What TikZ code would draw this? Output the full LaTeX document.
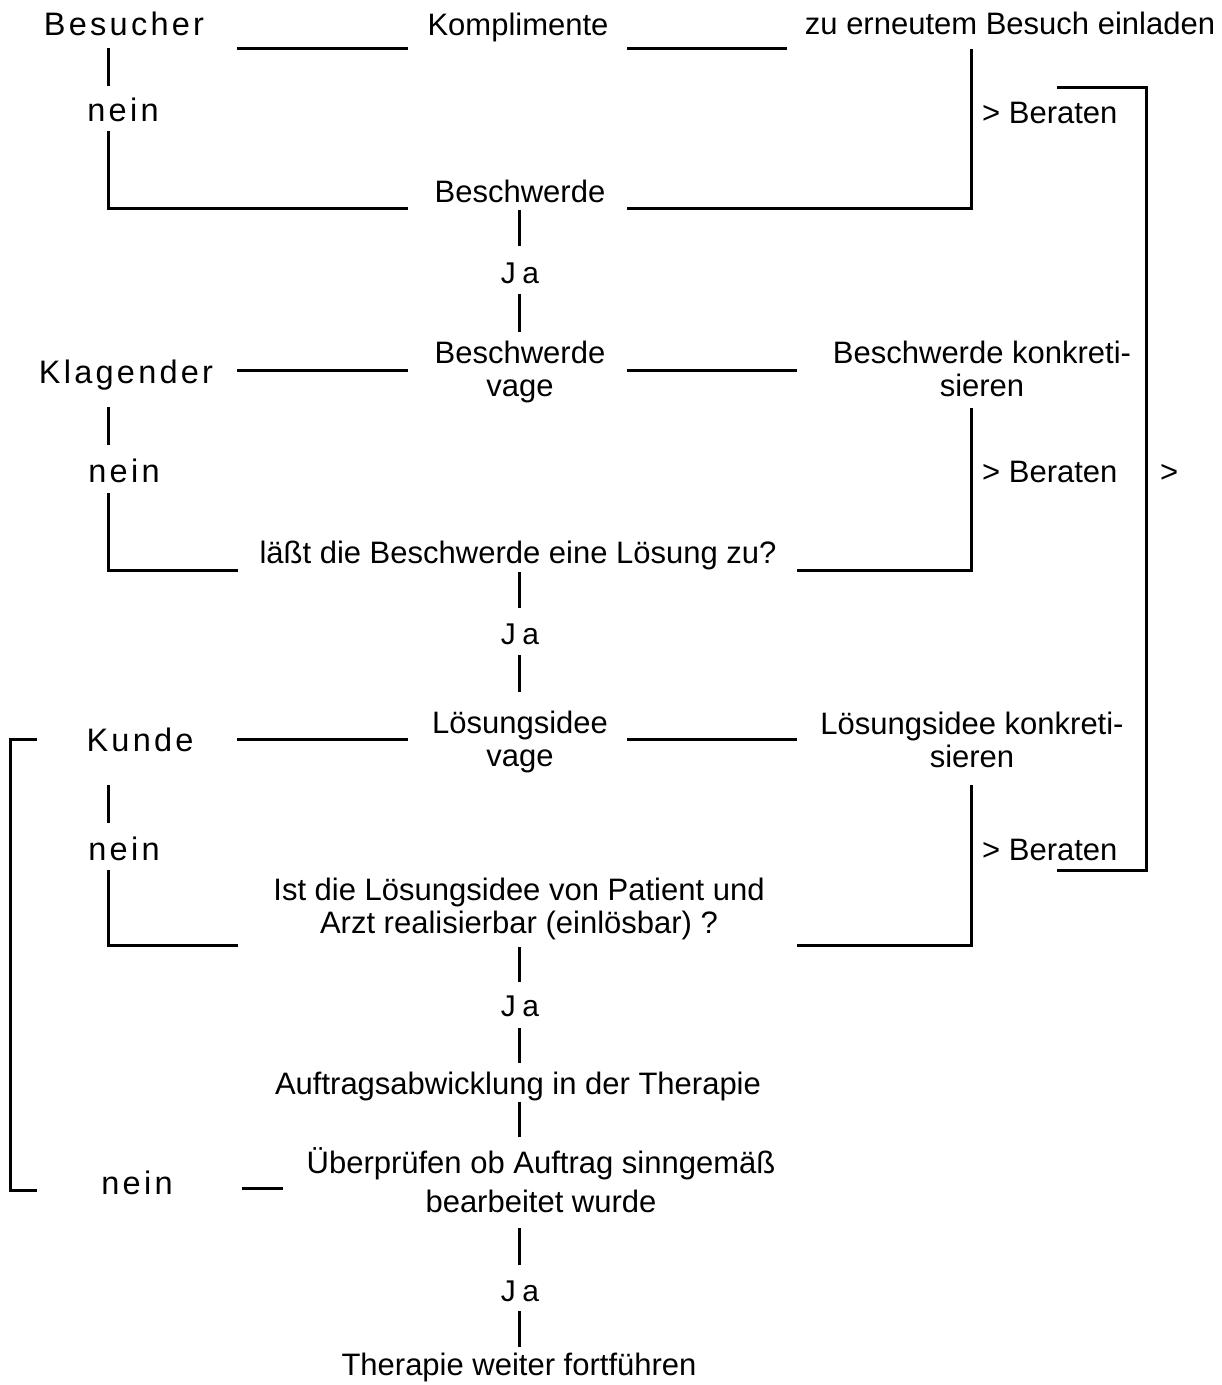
\documentclass[tikz,border=0pt]{standalone}
\usepackage{fontspec}
\setmainfont{Liberation Sans}
\newfontfamily\spaced[LetterSpace=10]{Liberation Sans}
\newfontfamily\spacedja[LetterSpace=22]{Liberation Sans}
\begin{document}
\begin{tikzpicture}[x=1pt,y=-1pt,
  txt/.style={inner sep=0pt,anchor=base,align=center,font=\fontsize{31}{33}\selectfont},
  lbl/.style={inner sep=0pt,anchor=base,font=\spaced\fontsize{32.5}{34}\selectfont},
  jalbl/.style={inner sep=0pt,anchor=base,font=\spacedja\fontsize{30}{32}\selectfont},
  ln/.style={line width=3pt}]
\path[use as bounding box] (0,0) rectangle (1222,1385);
% ---------- texts (two-line nodes: base = baseline of the last line) ----------
\node[lbl] (besucher) at (124,35) {Besucher};
\node[txt] (kompl) at (518,35) {Komplimente};
\node[txt] (einladen) at (1010,34) {zu erneutem Besuch einladen};
\node[lbl] (nein1) at (123,121) {nein};
\node[txt,anchor=base west] (berat1) at (982,123) {> Beraten};
\node[txt] (beschw) at (520,202) {Beschwerde};
\node[jalbl] (ja1) at (520,283) {Ja};
\node[lbl] (klag) at (126,383) {Klagender};
\node[txt] (beschvage) at (520,396) {Beschwerde\\vage};
\node[txt] (beschkonk) at (982,396) {Beschwerde konkreti-\\sieren};
\node[lbl] (nein2) at (124,482) {nein};
\node[txt,anchor=base west] (berat2) at (982,482) {> Beraten};
\node[txt,anchor=base west] (gt) at (1160,482) {>};
\node[txt] (laesst) at (518,563) {läßt die Beschwerde eine Lösung zu?};
\node[jalbl] (ja2) at (520,644) {Ja};
\node[lbl] (kunde) at (140,751) {Kunde};
\node[txt] (loesvage) at (520,766) {Lösungsidee\\vage};
\node[txt] (loeskonk) at (972,767) {Lösungsidee konkreti-\\sieren};
\node[lbl] (nein3) at (124,860) {nein};
\node[txt,anchor=base west] (berat3) at (982,860) {> Beraten};
\node[txt] (ist) at (519,933) {Ist die Lösungsidee von Patient und\\Arzt realisierbar (einlösbar) ?};
\node[jalbl] (ja3) at (520,1016) {Ja};
\node[txt] (auftrag) at (518,1094) {Auftragsabwicklung in der Therapie};
\node[lbl] (nein4) at (137,1194) {nein};
\node[txt] (pruef) at (541,1212) {Überprüfen ob Auftrag sinngemäß\\[6pt]bearbeitet wurde};
\node[jalbl] (ja4) at (520,1301) {Ja};
\node[txt] (weiter) at (519,1375) {Therapie weiter fortführen};
% ---------- connector end points ----------
\coordinate (r1a) at (237,48);  \coordinate (r1b) at (408,48);
\coordinate (r1c) at (627,48);  \coordinate (r1d) at (787,48);
\coordinate (v1a) at (108,48);  \coordinate (v1b) at (108,86);
\coordinate (v1c) at (108,131); \coordinate (v1d) at (108,208); \coordinate (v1e) at (408,208);
\coordinate (w1a) at (627,208); \coordinate (w1b) at (971,208); \coordinate (w1c) at (971,49);
\coordinate (c1a) at (519,210); \coordinate (c1b) at (519,246);
\coordinate (c1c) at (519,294); \coordinate (c1d) at (519,332);
\coordinate (br1) at (1057,87); \coordinate (br2) at (1146,87);
\coordinate (br3) at (1146,870); \coordinate (br4) at (1057,870);
\coordinate (r2a) at (237,370);  \coordinate (r2b) at (408,370);
\coordinate (r2c) at (627,370);  \coordinate (r2d) at (797,370);
\coordinate (v2a) at (108,407);  \coordinate (v2b) at (108,445);
\coordinate (v2c) at (108,493);  \coordinate (v2d) at (108,570); \coordinate (v2e) at (238,570);
\coordinate (w2a) at (797,570);  \coordinate (w2b) at (971,570); \coordinate (w2c) at (971,408);
\coordinate (c2a) at (519,572);  \coordinate (c2b) at (519,608);
\coordinate (c2c) at (519,655);  \coordinate (c2d) at (519,692);
\coordinate (r3a) at (237,739);  \coordinate (r3b) at (408,739);
\coordinate (r3c) at (627,739);  \coordinate (r3d) at (797,739);
\coordinate (bl1) at (37,739);   \coordinate (bl2) at (10,739);
\coordinate (bl3) at (10,1190);  \coordinate (bl4) at (37,1190);
\coordinate (v3a) at (108,785);  \coordinate (v3b) at (108,823);
\coordinate (v3c) at (108,870);  \coordinate (v3d) at (108,945); \coordinate (v3e) at (238,945);
\coordinate (w3a) at (797,945);  \coordinate (w3b) at (971,945); \coordinate (w3c) at (971,785);
\coordinate (c3a) at (519,947);  \coordinate (c3b) at (519,982);
\coordinate (c3c) at (519,1028); \coordinate (c3d) at (519,1063);
\coordinate (c4a) at (519,1102); \coordinate (c4b) at (519,1137);
\coordinate (n4a) at (242,1188); \coordinate (n4b) at (283,1188);
\coordinate (c5a) at (519,1228); \coordinate (c5b) at (519,1265);
\coordinate (c5c) at (519,1311); \coordinate (c5d) at (519,1347);
% ---------- connectors ----------
\draw[ln] (r1a) -- (r1b);
\draw[ln] (r1c) -- (r1d);
\draw[ln] (v1a) -- (v1b);
\draw[ln] (v1c) -- (v1d) -- (v1e);
\draw[ln] (w1a) -- (w1b) -- (w1c);
\draw[ln] (c1a) -- (c1b);
\draw[ln] (c1c) -- (c1d);
\draw[ln] (br1) -- (br2) -- (br3) -- (br4);
\draw[ln] (r2a) -- (r2b);
\draw[ln] (r2c) -- (r2d);
\draw[ln] (v2a) -- (v2b);
\draw[ln] (v2c) -- (v2d) -- (v2e);
\draw[ln] (w2a) -- (w2b) -- (w2c);
\draw[ln] (c2a) -- (c2b);
\draw[ln] (c2c) -- (c2d);
\draw[ln] (r3a) -- (r3b);
\draw[ln] (r3c) -- (r3d);
\draw[ln] (bl1) -- (bl2) -- (bl3) -- (bl4);
\draw[ln] (v3a) -- (v3b);
\draw[ln] (v3c) -- (v3d) -- (v3e);
\draw[ln] (w3a) -- (w3b) -- (w3c);
\draw[ln] (c3a) -- (c3b);
\draw[ln] (c3c) -- (c3d);
\draw[ln] (c4a) -- (c4b);
\draw[ln] (n4a) -- (n4b);
\draw[ln] (c5a) -- (c5b);
\draw[ln] (c5c) -- (c5d);
\end{tikzpicture}
\end{document}
